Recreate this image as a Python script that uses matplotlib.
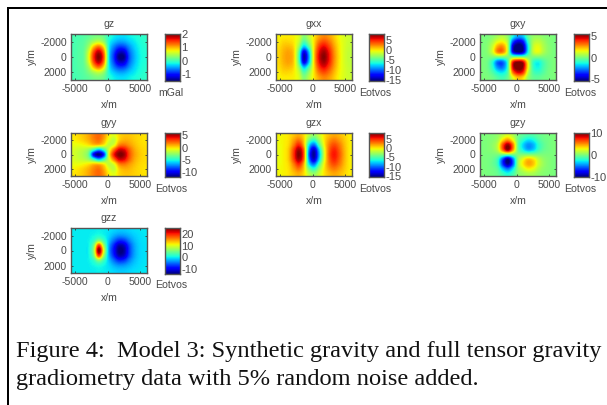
from matplotlib import pyplot as plt
from matplotlib.patches import Rectangle
import numpy as np

plt.rcParams['axes.unicode_minus'] = False

W = 607.0
H = 405.0

# grid values, rows go y=-2667..2667, columns x=-5213..5613
gz = [
    [0.02, 0.04, 0.08, 0.14, 0.22, 0.25, 0.16, -0.10, -0.24, -0.30, -0.30, -0.24, -0.18, -0.12, -0.08],
    [0.02, 0.06, 0.10, 0.25, 0.44, 0.55, 0.34, -0.16, -0.38, -0.50, -0.48, -0.36, -0.26, -0.16, -0.10],
    [0.03, 0.07, 0.13, 0.42, 0.98, 1.25, 0.80, -0.20, -0.62, -0.85, -0.82, -0.56, -0.34, -0.20, -0.12],
    [0.03, 0.08, 0.15, 0.62, 1.40, 1.80, 1.20, -0.24, -0.82, -1.25, -1.22, -0.72, -0.42, -0.22, -0.14],
    [0.03, 0.08, 0.15, 0.70, 1.55, 2.00, 1.35, -0.26, -0.92, -1.50, -1.45, -0.80, -0.45, -0.24, -0.15],
    [0.03, 0.08, 0.15, 0.62, 1.40, 1.80, 1.20, -0.24, -0.82, -1.25, -1.22, -0.72, -0.42, -0.22, -0.14],
    [0.03, 0.07, 0.13, 0.42, 0.98, 1.25, 0.80, -0.20, -0.62, -0.85, -0.82, -0.56, -0.34, -0.20, -0.12],
    [0.02, 0.06, 0.10, 0.25, 0.44, 0.55, 0.34, -0.16, -0.38, -0.50, -0.48, -0.36, -0.26, -0.16, -0.10],
    [0.02, 0.04, 0.08, 0.14, 0.22, 0.25, 0.16, -0.10, -0.24, -0.30, -0.30, -0.24, -0.18, -0.12, -0.08],
]
gxx = [
    [-0.2, 0.0, 0.0, -0.2, -1.0, -3.5, -2.0, 0.1, 1.8, 2.6, 2.0, 0.8, -0.4, -1.1, -1.5],
    [0.0, 0.5, 0.5, 0.0, -1.6, -5.0, -3.0, 0.2, 3.0, 4.0, 3.0, 1.3, -0.2, -1.1, -1.6],
    [0.3, 1.0, 1.2, 0.4, -2.8, -8.0, -5.0, 0.3, 4.4, 5.8, 4.2, 1.9, 0.0, -1.1, -1.7],
    [0.5, 1.4, 1.8, 0.7, -4.5, -13.0, -8.0, 0.5, 5.5, 7.2, 5.2, 2.3, 0.1, -1.2, -1.8],
    [0.5, 1.5, 1.9, 0.8, -5.0, -14.5, -9.0, 0.5, 6.0, 7.8, 5.5, 2.5, 0.2, -1.2, -1.8],
    [0.5, 1.4, 1.8, 0.7, -4.5, -13.0, -8.0, 0.5, 5.5, 7.2, 5.2, 2.3, 0.1, -1.2, -1.8],
    [0.3, 1.0, 1.2, 0.4, -2.8, -8.0, -5.0, 0.3, 4.4, 5.8, 4.2, 1.9, 0.0, -1.1, -1.7],
    [0.0, 0.5, 0.5, 0.0, -1.6, -5.0, -3.0, 0.2, 3.0, 4.0, 3.0, 1.3, -0.2, -1.1, -1.6],
    [-0.2, 0.0, 0.0, -0.2, -1.0, -3.5, -2.0, 0.1, 1.8, 2.6, 2.0, 0.8, -0.4, -1.1, -1.5],
]
gxy = [
    [0.0, 0.0, 0.2, 0.6, 0.8, 0.2, -1.4, -2.4, -2.0, -0.4, 0.3, 0.4, 0.2, 0.1, 0.0],
    [0.0, 0.1, 0.6, 1.4, 1.6, 0.5, -3.2, -4.6, -4.0, -1.0, 0.6, 0.9, 0.5, 0.1, 0.0],
    [0.0, 0.2, 1.1, 2.6, 2.8, 0.8, -4.6, -5.8, -5.2, -1.6, 0.9, 1.4, 0.7, 0.2, 0.0],
    [0.0, 0.2, 1.2, 3.0, 3.0, 0.8, -4.2, -5.4, -4.8, -1.4, 0.9, 1.4, 0.7, 0.2, 0.0],
    [0.0, 0.0, 0.0, 0.0, 0.0, 0.0, 0.0, 0.0, 0.0, 0.0, 0.0, 0.0, 0.0, 0.0, 0.0],
    [0.0, -0.2, -1.2, -3.0, -3.0, -0.8, 4.2, 5.4, 4.8, 1.4, -0.9, -1.4, -0.7, -0.2, 0.0],
    [0.0, -0.2, -1.1, -2.6, -2.8, -0.8, 4.6, 5.8, 5.2, 1.6, -0.9, -1.4, -0.7, -0.2, 0.0],
    [0.0, -0.1, -0.6, -1.4, -1.6, -0.5, 3.2, 4.6, 4.0, 1.0, -0.6, -0.9, -0.5, -0.1, 0.0],
    [0.0, 0.0, -0.2, -0.6, -0.8, -0.2, 1.4, 2.4, 2.0, 0.4, -0.3, -0.4, -0.2, -0.1, 0.0],
]
gyy = [
    [0.0, 0.2, 0.6, 1.2, 2.0, 2.4, 1.5, -0.2, -0.8, 0.2, 0.6, 0.6, 0.4, 0.2, 0.0],
    [-0.3, 0.0, 0.4, 1.0, 1.8, 2.2, 1.0, -0.8, -1.5, 0.4, 1.0, 0.9, 0.5, 0.2, 0.0],
    [-0.6, -0.6, -0.4, 0.0, 0.6, 0.6, -0.2, -1.5, -0.8, 1.8, 2.2, 1.5, 0.8, 0.3, 0.1],
    [-1.0, -1.3, -1.6, -2.4, -4.5, -6.5, -4.5, -1.0, 2.2, 4.6, 4.4, 2.6, 1.2, 0.5, 0.2],
    [-1.1, -1.5, -2.0, -3.6, -10.0, -12.0, -9.0, -0.5, 4.0, 6.0, 5.5, 3.0, 1.4, 0.6, 0.2],
    [-1.0, -1.3, -1.6, -2.4, -4.5, -6.5, -4.5, -1.0, 2.2, 4.6, 4.4, 2.6, 1.2, 0.5, 0.2],
    [-0.6, -0.6, -0.4, 0.0, 0.6, 0.6, -0.2, -1.5, -0.8, 1.8, 2.2, 1.5, 0.8, 0.3, 0.1],
    [-0.3, 0.0, 0.4, 1.0, 1.8, 2.2, 1.0, -0.8, -1.5, 0.4, 1.0, 0.9, 0.5, 0.2, 0.0],
    [0.0, 0.2, 0.6, 1.2, 2.0, 2.4, 1.5, -0.2, -0.8, 0.2, 0.6, 0.6, 0.4, 0.2, 0.0],
]
gzx = [
    [-0.3, -0.2, 0.2, 1.0, 1.6, 0.4, -2.0, -3.2, -1.6, 0.1, 1.2, 1.7, 1.3, 0.6, 0.0],
    [-0.4, -0.2, 0.3, 1.8, 3.0, 0.8, -4.0, -6.0, -3.0, 0.0, 2.0, 2.8, 2.0, 0.9, 0.0],
    [-0.5, -0.2, 0.5, 2.8, 5.0, 1.5, -7.0, -10.0, -5.2, -0.4, 2.8, 4.0, 2.9, 1.2, 0.0],
    [-0.6, -0.2, 0.9, 4.2, 7.2, 3.2, -9.0, -14.0, -8.0, -1.2, 3.3, 5.0, 3.5, 1.4, 0.0],
    [-0.6, -0.2, 1.0, 4.6, 8.0, 3.6, -10.0, -15.0, -9.0, -1.5, 3.6, 5.4, 3.8, 1.5, 0.0],
    [-0.6, -0.2, 0.9, 4.2, 7.2, 3.2, -9.0, -14.0, -8.0, -1.2, 3.3, 5.0, 3.5, 1.4, 0.0],
    [-0.5, -0.2, 0.5, 2.8, 5.0, 1.5, -7.0, -10.0, -5.2, -0.4, 2.8, 4.0, 2.9, 1.2, 0.0],
    [-0.4, -0.2, 0.3, 1.8, 3.0, 0.8, -4.0, -6.0, -3.0, 0.0, 2.0, 2.8, 2.0, 0.9, 0.0],
    [-0.3, -0.2, 0.2, 1.0, 1.6, 0.4, -2.0, -3.2, -1.6, 0.1, 1.2, 1.7, 1.3, 0.6, 0.0],
]
gzy = [
    [0.0, 0.1, 0.2, 0.6, 1.6, 2.4, 1.4, -0.2, -0.8, -1.2, -1.1, -0.6, -0.3, -0.1, 0.0],
    [0.0, 0.1, 0.3, 1.0, 3.6, 5.2, 3.0, -0.4, -2.0, -3.0, -2.6, -1.3, -0.5, -0.2, 0.0],
    [0.0, 0.1, 0.5, 1.8, 6.5, 9.5, 5.8, -0.6, -3.2, -4.6, -4.0, -2.0, -0.8, -0.2, 0.0],
    [0.0, 0.1, 0.4, 1.6, 6.0, 9.5, 5.2, -0.4, -2.6, -4.0, -3.4, -1.7, -0.6, -0.2, 0.0],
    [0.0, 0.0, 0.0, 0.0, 0.0, 0.0, 0.0, 0.0, 0.0, 0.0, 0.0, 0.0, 0.0, 0.0, 0.0],
    [0.0, -0.1, -0.4, -1.6, -6.0, -9.5, -5.2, 0.4, 2.6, 4.0, 3.4, 1.7, 0.6, 0.2, 0.0],
    [0.0, -0.1, -0.5, -1.8, -6.5, -9.5, -5.8, 0.6, 3.2, 4.6, 4.0, 2.0, 0.8, 0.2, 0.0],
    [0.0, -0.1, -0.3, -1.0, -3.6, -5.2, -3.0, 0.4, 2.0, 3.0, 2.6, 1.3, 0.5, 0.2, 0.0],
    [0.0, -0.1, -0.2, -0.6, -1.6, -2.4, -1.4, 0.2, 0.8, 1.2, 1.1, 0.6, 0.3, 0.1, 0.0],
]
gzz = [
    [0.0, 0.0, 0.0, 0.0, 0.0, 0.2, 0.0, -0.4, -1.0, -1.4, -1.4, -1.0, -0.6, -0.3, -0.2],
    [0.0, 0.0, 0.0, 0.0, 0.5, 1.2, 0.4, -0.8, -2.4, -3.4, -3.2, -2.2, -1.2, -0.6, -0.3],
    [0.0, 0.0, 0.0, 0.2, 2.0, 6.0, 2.4, -1.6, -5.0, -7.5, -7.0, -4.2, -2.0, -0.8, -0.4],
    [0.0, 0.0, 0.0, 0.4, 5.5, 19.0, 7.0, -2.6, -8.0, -12.5, -11.5, -6.5, -2.8, -1.0, -0.5],
    [0.0, 0.0, 0.0, 0.5, 7.0, 25.0, 10.0, -3.0, -9.0, -14.0, -13.0, -7.0, -3.0, -1.0, -0.5],
    [0.0, 0.0, 0.0, 0.4, 5.5, 19.0, 7.0, -2.6, -8.0, -12.5, -11.5, -6.5, -2.8, -1.0, -0.5],
    [0.0, 0.0, 0.0, 0.2, 2.0, 6.0, 2.4, -1.6, -5.0, -7.5, -7.0, -4.2, -2.0, -0.8, -0.4],
    [0.0, 0.0, 0.0, 0.0, 0.5, 1.2, 0.4, -0.8, -2.4, -3.4, -3.2, -2.2, -1.2, -0.6, -0.3],
    [0.0, 0.0, 0.0, 0.0, 0.0, 0.2, 0.0, -0.4, -1.0, -1.4, -1.4, -1.0, -0.6, -0.3, -0.2],
]

titles = ['gz', 'gxx', 'gxy', 'gyy', 'gzx', 'gzy', 'gzz']
grids = [gz, gxx, gxy, gyy, gzx, gzy, gzz]
units = ['mGal', 'Eotvos', 'Eotvos', 'Eotvos', 'Eotvos', 'Eotvos', 'Eotvos']
vmins = [-1.5, -15.5, -5.5, -12, -15.5, -10, -14]
vmaxs = [2, 8, 5.5, 6, 8, 10, 25]
cticks = [[-1, 0, 1, 2],
          [-15, -10, -5, 0, 5],
          [-5, 0, 5],
          [-10, -5, 0, 5],
          [-15, -10, -5, 0, 5],
          [-10, 0, 10],
          [-10, 0, 10, 20]]
ctick_labels = [['-1', '0', '1', '2'],
                ['-15', '-10', '-5', '0', '5'],
                ['-5', '0', '5'],
                ['-10', '-5', '0', '5'],
                ['-15', '-10', '-5', '0', '5'],
                ['-10', '0', '10'],
                ['-10', '0', '10', '20']]
xlim = [-5600, 6000]
ylim = [3000, -3000]
xticks = [-5000, 0, 5000]
yticks = [-2000, 0, 2000]

caption = ['Figure 4:  Model 3: Synthetic gravity and full tensor gravity',
           'gradiometry data with 5% random noise added.']

# pixel boxes: left, top, right, bottom
map_lefts = [71, 276, 480]
bar_lefts = [165, 369, 574]
row_tops = [34, 133, 228]
row_bottoms = [80, 176, 273]

GREY = '#4a4a4a'
FONT = 'Liberation Sans'
SIZE = 7.6


def px_axes(fig, left, top, right, bottom):
    return fig.add_axes([left/W, 1.0-bottom/H, (right-left)/W, (bottom-top)/H])


def style_frame(ax):
    for s in ax.spines.values():
        s.set_color('#555555')
        s.set_linewidth(1.0)


def draw_panel(fig, idx):
    row, col = divmod(idx, 3)
    left = map_lefts[col]
    top = row_tops[row]
    bottom = row_bottoms[row]

    ax = px_axes(fig, left, top, left+76, bottom)
    ax.imshow(np.array(grids[idx]), cmap='jet', vmin=vmins[idx], vmax=vmaxs[idx],
              extent=[xlim[0], xlim[1], ylim[0], ylim[1]], aspect='auto',
              interpolation='catrom')
    ax.set_xlim(xlim)
    ax.set_ylim(ylim)
    ax.set_xticks(xticks)
    ax.set_yticks(yticks)
    ax.tick_params(direction='in', length=1.5, width=0.6, color='#333333',
                   labelsize=SIZE, labelcolor=GREY, pad=3, top=True, right=True)
    for lab in ax.get_xticklabels() + ax.get_yticklabels():
        lab.set_family(FONT)
    ax.set_title(titles[idx], fontsize=SIZE, color=GREY, family=FONT, pad=4.8)
    ax.set_xlabel('x/m', fontsize=SIZE, color=GREY, family=FONT, labelpad=4)
    ax.set_ylabel('y/m', fontsize=SIZE, color=GREY, family=FONT, labelpad=2)
    style_frame(ax)

    cax = px_axes(fig, bar_lefts[col], top, bar_lefts[col]+15, bottom+1)
    levels = np.linspace(vmins[idx], vmaxs[idx], 64).reshape(-1, 1)
    cax.imshow(levels, cmap='jet', vmin=vmins[idx], vmax=vmaxs[idx], origin='lower',
               extent=[0, 1, vmins[idx], vmaxs[idx]], aspect='auto')
    cax.set_xticks([])
    cax.yaxis.tick_right()
    cax.set_yticks(cticks[idx])
    cax.set_yticklabels(ctick_labels[idx], family=FONT)
    cax.tick_params(axis='y', length=0, labelsize=8, labelcolor=GREY, pad=1)
    style_frame(cax)

    off = -7 if units[idx] == 'mGal' else -10
    fig.text((bar_lefts[col]+off)/W, 1.0-(bottom+12.5)/H, units[idx], fontsize=SIZE,
             color=GREY, family=FONT, ha='left', va='center')


fig = plt.figure(figsize=(W/100.0, H/100.0), dpi=100)

# document frame, only top and left edges show
fig.add_artist(Rectangle((7.0/W, 0), 2.0/W, 1.0-7.0/H, transform=fig.transFigure, fc='black', ec='none'))
fig.add_artist(Rectangle((7.0/W, 1.0-9.0/H), 1.0-7.0/W, 2.0/H, transform=fig.transFigure, fc='black', ec='none'))

for i in range(len(grids)):
    draw_panel(fig, i)

fig.text(16.0/W, 1.0-357.0/H, caption[0], fontsize=17.6, family='Liberation Serif', color='#111111', va='baseline')
fig.text(16.0/W, 1.0-385.0/H, caption[1], fontsize=17.6, family='Liberation Serif', color='#111111', va='baseline')

fig.savefig('out.png', dpi=100)
plt.close(fig)
